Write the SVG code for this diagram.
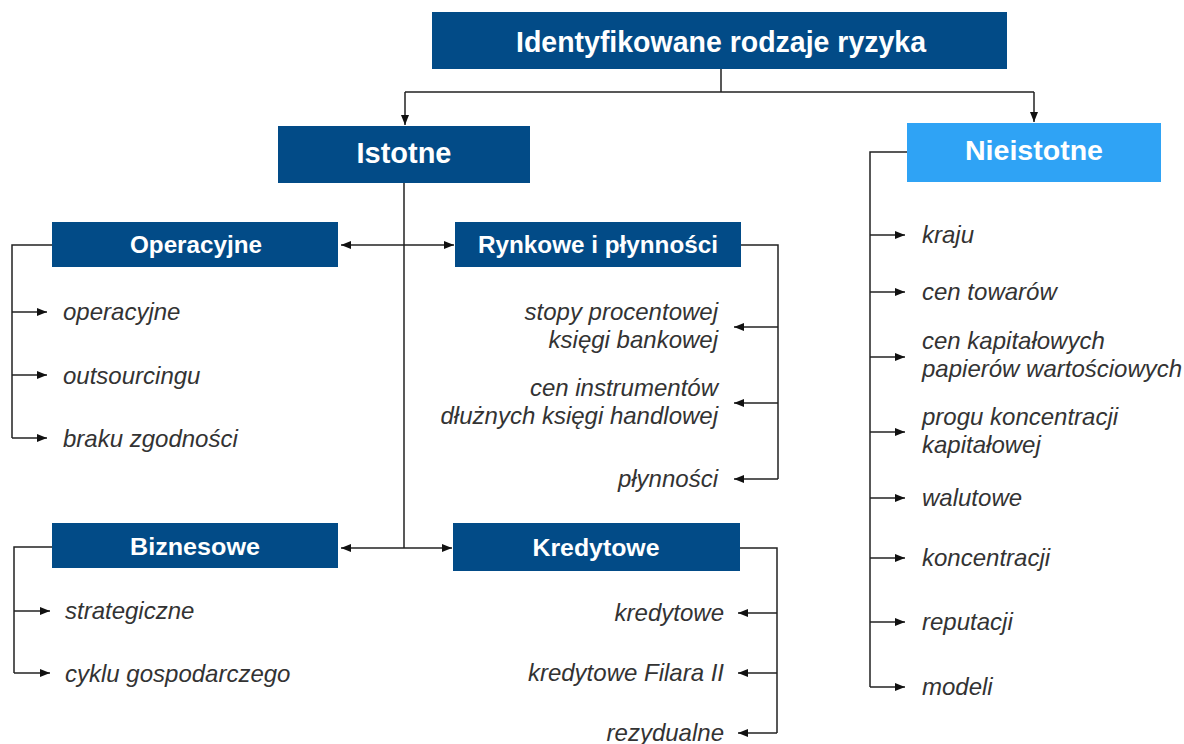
<svg xmlns="http://www.w3.org/2000/svg" width="1184" height="744" viewBox="0 0 1184 744">
<style>
.dk{fill:#024B87}
.lt{fill:#2FA3F5}
.hd{font-family:"Liberation Sans",Arial,sans-serif;font-weight:bold;fill:#fff;text-anchor:middle}
.it{font-family:"Liberation Sans",Arial,sans-serif;font-style:italic;font-size:24px;fill:#333}
.r{text-anchor:end}
.ln{fill:none;stroke:#222;stroke-width:1.5}
</style>
<defs>
<marker id="ah" markerWidth="10" markerHeight="8" refX="10" refY="4" orient="auto" markerUnits="userSpaceOnUse">
<path d="M0,0 L10,4 L0,8 Z" fill="#111"/>
</marker>
</defs>
<rect width="1184" height="744" fill="#fff"/>

<g id="connectors" class="ln">
<path d="M721,69 V92 M405,92 H1034"/>
<path d="M405,92 V125" marker-end="url(#ah)"/>
<path d="M1034,92 V122" marker-end="url(#ah)"/>
<path d="M404,183 V548"/>
<path d="M404,245 H341" marker-end="url(#ah)"/>
<path d="M404,245 H454" marker-end="url(#ah)"/>
<path d="M404,548 H341" marker-end="url(#ah)"/>
<path d="M404,548 H452" marker-end="url(#ah)"/>
<!-- Operacyjne -->
<path d="M52,245 H12 V438"/>
<path d="M12,312 H47" marker-end="url(#ah)"/>
<path d="M12,375 H47" marker-end="url(#ah)"/>
<path d="M12,438 H47" marker-end="url(#ah)"/>
<!-- Biznesowe -->
<path d="M52,547 H14 V673"/>
<path d="M14,611 H50" marker-end="url(#ah)"/>
<path d="M14,673 H50" marker-end="url(#ah)"/>
<!-- Rynkowe -->
<path d="M741,245 H778 V479"/>
<path d="M778,327 H734" marker-end="url(#ah)"/>
<path d="M778,403 H734" marker-end="url(#ah)"/>
<path d="M778,479 H734" marker-end="url(#ah)"/>
<!-- Kredytowe -->
<path d="M740,548 H777 V733"/>
<path d="M777,613 H738" marker-end="url(#ah)"/>
<path d="M777,673 H738" marker-end="url(#ah)"/>
<path d="M777,733 H738" marker-end="url(#ah)"/>
<!-- Nieistotne -->
<path d="M907,152 H870 V687"/>
<path d="M870,235 H905" marker-end="url(#ah)"/>
<path d="M870,292 H905" marker-end="url(#ah)"/>
<path d="M870,357 H905" marker-end="url(#ah)"/>
<path d="M870,432 H905" marker-end="url(#ah)"/>
<path d="M870,498 H905" marker-end="url(#ah)"/>
<path d="M870,558 H905" marker-end="url(#ah)"/>
<path d="M870,622 H905" marker-end="url(#ah)"/>
<path d="M870,687 H905" marker-end="url(#ah)"/>
</g>

<g id="root">
<rect class="dk" x="432" y="12" width="575" height="57"/>
<text class="hd" x="721" y="52" font-size="30" textLength="410" lengthAdjust="spacingAndGlyphs">Identyfikowane rodzaje ryzyka</text>
</g>

<g id="istotne">
<rect class="dk" x="278" y="126" width="252" height="57"/>
<text class="hd" x="404" y="163" font-size="30" textLength="95" lengthAdjust="spacingAndGlyphs">Istotne</text>
</g>

<g id="nieistotne">
<rect class="lt" x="907" y="123" width="254" height="59"/>
<text class="hd" x="1034" y="160" font-size="27" textLength="138" lengthAdjust="spacingAndGlyphs">Nieistotne</text>
</g>

<g id="operacyjne">
<rect class="dk" x="52" y="222" width="286" height="45"/>
<text class="hd" x="196" y="253" font-size="23" textLength="132" lengthAdjust="spacingAndGlyphs">Operacyjne</text>
</g>
<g id="op-items">
<text class="it" x="63" y="320">operacyjne</text>
<text class="it" x="63" y="384">outsourcingu</text>
<text class="it" x="63" y="447">braku zgodności</text>
</g>

<g id="rynkowe">
<rect class="dk" x="455" y="222" width="286" height="45"/>
<text class="hd" x="598" y="253" font-size="23" textLength="240" lengthAdjust="spacingAndGlyphs">Rynkowe i płynności</text>
</g>
<g id="ryn-items">
<text class="it r" x="718" y="320">stopy procentowej</text>
<text class="it r" x="718" y="348">księgi bankowej</text>
<text class="it r" x="718" y="396">cen instrumentów </text>
<text class="it r" x="718" y="424">dłużnych księgi handlowej</text>
<text class="it r" x="718" y="487">płynności</text>
</g>

<g id="biznesowe">
<rect class="dk" x="52" y="523" width="286" height="45"/>
<text class="hd" x="195" y="555" font-size="23" textLength="130" lengthAdjust="spacingAndGlyphs">Biznesowe</text>
</g>
<g id="biz-items">
<text class="it" x="65" y="619">strategiczne</text>
<text class="it" x="65" y="682">cyklu gospodarczego</text>
</g>

<g id="kredytowe">
<rect class="dk" x="453" y="523" width="287" height="48"/>
<text class="hd" x="596" y="556" font-size="23" textLength="127" lengthAdjust="spacingAndGlyphs">Kredytowe</text>
</g>
<g id="kred-items">
<text class="it r" x="724" y="621">kredytowe</text>
<text class="it r" x="724" y="681">kredytowe Filara II</text>
<text class="it r" x="724" y="741">rezydualne</text>
</g>

<g id="nie-items">
<text class="it" x="922" y="243">kraju</text>
<text class="it" x="922" y="300">cen towarów</text>
<text class="it" x="922" y="349">cen kapitałowych</text>
<text class="it" x="922" y="377">papierów wartościowych</text>
<text class="it" x="922" y="425">progu koncentracji</text>
<text class="it" x="922" y="453">kapitałowej</text>
<text class="it" x="922" y="506">walutowe</text>
<text class="it" x="922" y="566">koncentracji</text>
<text class="it" x="922" y="630">reputacji</text>
<text class="it" x="922" y="695">modeli</text>
</g>
</svg>
